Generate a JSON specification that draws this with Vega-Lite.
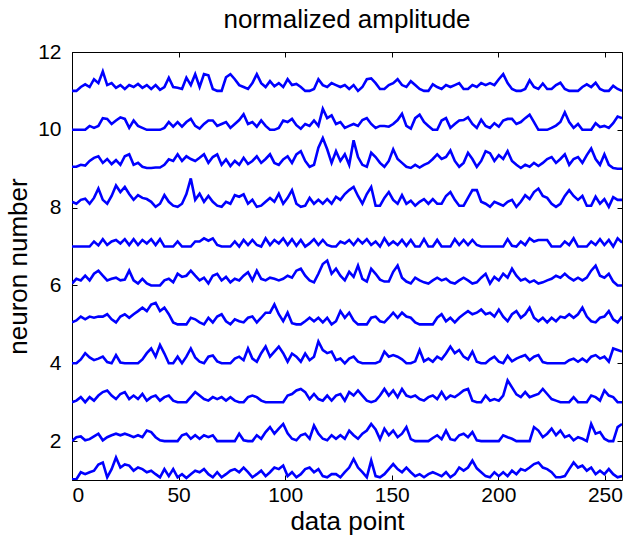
{
"$schema": "https://vega.github.io/schema/vega-lite/v6.json",
"width": 550,
"height": 428,
"autosize": "none",
"padding": {"left": 72, "top": 52, "right": 19, "bottom": 60},
"background": "white",
"title": {"text": "normalized amplitude", "font": "Liberation Sans", "fontSize": 26, "fontWeight": "normal", "color": "black", "offset": 8},
"config": {
  "view": {"stroke": "black", "strokeWidth": 1},
  "axis": {"domainColor": "black", "tickColor": "black", "labelColor": "black", "titleColor": "black", "labelFont": "Liberation Sans", "titleFont": "Liberation Sans", "labelFontSize": 21, "titleFontSize": 26, "titleFontWeight": "normal", "grid": false, "tickSize": -5}
},
"data": {"values": [
{"x":0,"n1":1.02,"n2":2,"n3":3,"n4":4,"n5":5.05,"n6":6.05,"n7":7,"n8":8.15,"n9":9.05,"n10":10,"n11":11},
{"x":2.06,"n1":1.02,"n2":2.1,"n3":3.04,"n4":4,"n5":5.1,"n6":6.17,"n7":7,"n8":8.1,"n9":9.05,"n10":10,"n11":11},
{"x":4.13,"n1":1.2,"n2":2.12,"n3":3.13,"n4":4.1,"n5":5.2,"n6":6.13,"n7":7,"n8":8.2,"n9":9.1,"n10":10,"n11":11.1},
{"x":6.19,"n1":1.15,"n2":2.02,"n3":3,"n4":4.26,"n5":5.13,"n6":6.25,"n7":7,"n8":8.23,"n9":9.08,"n10":10,"n11":11.17},
{"x":8.26,"n1":1.2,"n2":2.05,"n3":3.13,"n4":4.15,"n5":5.2,"n6":6.13,"n7":7,"n8":8.1,"n9":9.2,"n10":10.1,"n11":11.1},
{"x":10.32,"n1":1.24,"n2":2.12,"n3":3.04,"n4":4.08,"n5":5.17,"n6":6.3,"n7":7.13,"n8":8.25,"n9":9.28,"n10":10.05,"n11":11.3},
{"x":12.38,"n1":1.4,"n2":2.19,"n3":3.17,"n4":4.12,"n5":5.2,"n6":6.38,"n7":7.03,"n8":8.49,"n9":9.32,"n10":10.1,"n11":11.2},
{"x":14.45,"n1":1.45,"n2":2.02,"n3":3.26,"n4":4.17,"n5":5.2,"n6":6.25,"n7":7.19,"n8":8.2,"n9":9.15,"n10":10.3,"n11":11.5},
{"x":16.51,"n1":1.07,"n2":2.1,"n3":3.3,"n4":4.03,"n5":5.26,"n6":6.13,"n7":7.04,"n8":8.1,"n9":9.25,"n10":10.28,"n11":11.15},
{"x":18.58,"n1":1.28,"n2":2.15,"n3":3.17,"n4":4,"n5":5.13,"n6":6.17,"n7":7.13,"n8":8.3,"n9":9.12,"n10":10.15,"n11":11.2},
{"x":20.64,"n1":1.58,"n2":2.19,"n3":3.08,"n4":4.21,"n5":5.05,"n6":6.2,"n7":7.17,"n8":8.57,"n9":9.22,"n10":10.24,"n11":11.08},
{"x":22.7,"n1":1.32,"n2":2.15,"n3":3.21,"n4":4.02,"n5":5.2,"n6":6.13,"n7":7.08,"n8":8.4,"n9":9.1,"n10":10.32,"n11":11.15},
{"x":24.77,"n1":1.4,"n2":2.19,"n3":3.26,"n4":4,"n5":5.26,"n6":6.15,"n7":7.19,"n8":8.53,"n9":9.32,"n10":10.28,"n11":11.05},
{"x":26.83,"n1":1.37,"n2":2.15,"n3":3.08,"n4":4,"n5":5.17,"n6":6.38,"n7":7.04,"n8":8.35,"n9":9.37,"n10":10.05,"n11":11.15},
{"x":28.9,"n1":1.24,"n2":2.1,"n3":3.17,"n4":4,"n5":5.26,"n6":6.13,"n7":7.19,"n8":8.2,"n9":9.1,"n10":10.24,"n11":11.1},
{"x":30.96,"n1":1.32,"n2":2.15,"n3":3.08,"n4":4,"n5":5.34,"n6":6.05,"n7":7.04,"n8":8.32,"n9":9.15,"n10":10.1,"n11":11.18},
{"x":33.02,"n1":1.28,"n2":2.1,"n3":3.21,"n4":4.1,"n5":5.43,"n6":6.17,"n7":7.17,"n8":8.25,"n9":9.05,"n10":10.05,"n11":11.08},
{"x":35.09,"n1":1.2,"n2":2.27,"n3":3.04,"n4":4.26,"n5":5.34,"n6":6.05,"n7":7.08,"n8":8.22,"n9":9.02,"n10":10,"n11":11.15},
{"x":37.15,"n1":1.24,"n2":2.23,"n3":3.13,"n4":4.38,"n5":5.51,"n6":6,"n7":7.19,"n8":8.15,"n9":9.02,"n10":10,"n11":11.05},
{"x":39.22,"n1":1.15,"n2":2.1,"n3":3.17,"n4":4.17,"n5":5.55,"n6":6,"n7":7.04,"n8":8.02,"n9":9.03,"n10":10,"n11":11.15},
{"x":41.28,"n1":1.07,"n2":2.02,"n3":3.04,"n4":4.47,"n5":5.34,"n6":6,"n7":7.19,"n8":8.1,"n9":9.03,"n10":10,"n11":11.03},
{"x":43.34,"n1":1.28,"n2":2,"n3":3.13,"n4":4.25,"n5":5.43,"n6":6.13,"n7":7,"n8":8.32,"n9":9.1,"n10":10.05,"n11":11.1},
{"x":45.41,"n1":1.1,"n2":2,"n3":3.17,"n4":4,"n5":5.26,"n6":6.17,"n7":7,"n8":8.15,"n9":9.24,"n10":10.2,"n11":11.34},
{"x":47.47,"n1":1.28,"n2":2,"n3":3.04,"n4":4,"n5":5.05,"n6":6.08,"n7":7,"n8":8.05,"n9":9.2,"n10":10.08,"n11":11.1},
{"x":49.54,"n1":1.07,"n2":2,"n3":3,"n4":4.17,"n5":5,"n6":6.3,"n7":7.13,"n8":8.02,"n9":9.37,"n10":10.2,"n11":11.08},
{"x":51.6,"n1":1.15,"n2":2.15,"n3":3,"n4":4,"n5":5,"n6":6.22,"n7":7,"n8":8.1,"n9":9.2,"n10":10.08,"n11":11.05},
{"x":53.66,"n1":1.05,"n2":2.19,"n3":3,"n4":4.17,"n5":5,"n6":6.25,"n7":7,"n8":8.35,"n9":9.32,"n10":10.2,"n11":11.34},
{"x":55.73,"n1":1.15,"n2":2.06,"n3":3.13,"n4":4.38,"n5":5.17,"n6":6.38,"n7":7,"n8":8.75,"n9":9.25,"n10":10.28,"n11":11.15},
{"x":57.79,"n1":1.24,"n2":2.15,"n3":3.26,"n4":4.15,"n5":5.13,"n6":6.25,"n7":7.13,"n8":8.2,"n9":9.2,"n10":10.1,"n11":11.43},
{"x":59.86,"n1":1.2,"n2":2.06,"n3":3.17,"n4":4.04,"n5":5.05,"n6":6.13,"n7":7.13,"n8":8.36,"n9":9.28,"n10":10.03,"n11":11.1},
{"x":61.92,"n1":1.28,"n2":2.15,"n3":3.08,"n4":4,"n5":5,"n6":6.2,"n7":7.21,"n8":8.15,"n9":9.37,"n10":10.15,"n11":11.43},
{"x":63.98,"n1":1.15,"n2":2.1,"n3":3.04,"n4":4.17,"n5":5.17,"n6":6.05,"n7":7.15,"n8":8.3,"n9":9.15,"n10":10.24,"n11":11.4},
{"x":66.05,"n1":1.07,"n2":2.15,"n3":3.13,"n4":4.2,"n5":5.05,"n6":6.25,"n7":7.21,"n8":8.15,"n9":9.3,"n10":10.24,"n11":11.05},
{"x":68.11,"n1":1.2,"n2":2,"n3":3.08,"n4":4.05,"n5":5.2,"n6":6.3,"n7":7.04,"n8":8.05,"n9":9.37,"n10":10.1,"n11":11},
{"x":70.18,"n1":1.07,"n2":2,"n3":3.13,"n4":4,"n5":5.26,"n6":6.13,"n7":7,"n8":8.02,"n9":9.1,"n10":10.15,"n11":11},
{"x":72.24,"n1":1.15,"n2":2,"n3":3.04,"n4":4,"n5":5.08,"n6":6.22,"n7":7,"n8":8.15,"n9":9.24,"n10":10.2,"n11":11.35},
{"x":74.3,"n1":1.24,"n2":2,"n3":3.13,"n4":4,"n5":5,"n6":6.08,"n7":7,"n8":8.1,"n9":9.07,"n10":10.05,"n11":11.43},
{"x":76.37,"n1":1.28,"n2":2,"n3":3.04,"n4":4.12,"n5":5.13,"n6":6.17,"n7":7.13,"n8":8.32,"n9":9.2,"n10":10.15,"n11":11.3},
{"x":78.43,"n1":1.2,"n2":2.19,"n3":3,"n4":4.17,"n5":5.08,"n6":6.13,"n7":7,"n8":8.28,"n9":9.1,"n10":10.25,"n11":11.15},
{"x":80.5,"n1":1.32,"n2":2.02,"n3":3,"n4":4.08,"n5":5.05,"n6":6.25,"n7":7.17,"n8":8.34,"n9":9.28,"n10":10.4,"n11":11.1},
{"x":82.56,"n1":1.2,"n2":2,"n3":3.13,"n4":4.38,"n5":5.17,"n6":6.34,"n7":7.04,"n8":8.1,"n9":9.12,"n10":10.15,"n11":11.05},
{"x":84.62,"n1":1.07,"n2":2,"n3":3.17,"n4":4.12,"n5":5.2,"n6":6.13,"n7":7.17,"n8":8.2,"n9":9.2,"n10":10.2,"n11":11.2},
{"x":86.69,"n1":1.15,"n2":2.15,"n3":3.13,"n4":4.04,"n5":5.05,"n6":6.38,"n7":7.04,"n8":8.02,"n9":9.32,"n10":10.08,"n11":11.43},
{"x":88.75,"n1":1.24,"n2":2.06,"n3":3.04,"n4":4.26,"n5":5.17,"n6":6.17,"n7":7,"n8":8.05,"n9":9.15,"n10":10.24,"n11":11.2},
{"x":90.82,"n1":1.1,"n2":2.23,"n3":3,"n4":4.43,"n5":5.3,"n6":6.13,"n7":7.21,"n8":8.15,"n9":9.25,"n10":10.1,"n11":11.1},
{"x":92.88,"n1":1.2,"n2":2.36,"n3":3,"n4":4.17,"n5":5.3,"n6":6.2,"n7":7.04,"n8":8.25,"n9":9.37,"n10":10,"n11":11.25},
{"x":94.94,"n1":1.32,"n2":2.19,"n3":3,"n4":4.3,"n5":5.51,"n6":6.17,"n7":7.17,"n8":8.15,"n9":9.15,"n10":10,"n11":11.12},
{"x":97.01,"n1":1.28,"n2":2.32,"n3":3,"n4":4.43,"n5":5.26,"n6":6.13,"n7":7.08,"n8":8.36,"n9":9.1,"n10":10.05,"n11":11.2},
{"x":99.07,"n1":1.37,"n2":2.44,"n3":3,"n4":4.26,"n5":5.08,"n6":6.17,"n7":7.21,"n8":8.1,"n9":9.24,"n10":10.24,"n11":11.1},
{"x":101.14,"n1":1.1,"n2":2.2,"n3":3.17,"n4":4.04,"n5":5.3,"n6":6.25,"n7":7.04,"n8":8.25,"n9":9.32,"n10":10.2,"n11":11.3},
{"x":103.2,"n1":1.2,"n2":2.06,"n3":3.21,"n4":4.25,"n5":5.03,"n6":6.2,"n7":7.19,"n8":8.45,"n9":9.15,"n10":10.28,"n11":11.15},
{"x":105.26,"n1":1.07,"n2":2.02,"n3":3.3,"n4":4.17,"n5":5,"n6":6.38,"n7":7.02,"n8":8.1,"n9":9.37,"n10":10.12,"n11":11.18},
{"x":107.33,"n1":1.15,"n2":2.15,"n3":3.34,"n4":4.04,"n5":5,"n6":6.43,"n7":7.17,"n8":8.02,"n9":9.45,"n10":10.03,"n11":11.1},
{"x":109.39,"n1":1.28,"n2":2.19,"n3":3.26,"n4":4.25,"n5":5.08,"n6":6.25,"n7":7,"n8":8.05,"n9":9.2,"n10":10.15,"n11":11},
{"x":111.46,"n1":1.32,"n2":2.06,"n3":3.08,"n4":4.08,"n5":5.17,"n6":6.13,"n7":7.08,"n8":8.25,"n9":9.05,"n10":10.1,"n11":11},
{"x":113.52,"n1":1.2,"n2":2.4,"n3":3.21,"n4":4.17,"n5":5.08,"n6":6.08,"n7":7.19,"n8":8.1,"n9":9.1,"n10":10.24,"n11":11.05},
{"x":115.58,"n1":1.28,"n2":2.19,"n3":3.08,"n4":4.56,"n5":5.17,"n6":6.3,"n7":7.04,"n8":8.2,"n9":9.54,"n10":10.1,"n11":11.3},
{"x":117.65,"n1":1.1,"n2":2.06,"n3":3.04,"n4":4.34,"n5":5.05,"n6":6.55,"n7":7.17,"n8":8.1,"n9":9.79,"n10":10.54,"n11":11.15},
{"x":119.71,"n1":1.07,"n2":2.02,"n3":3.17,"n4":4.26,"n5":5.17,"n6":6.64,"n7":7.04,"n8":8.22,"n9":9.5,"n10":10.3,"n11":11.1},
{"x":121.78,"n1":1.15,"n2":2.15,"n3":3.04,"n4":4.3,"n5":5,"n6":6.3,"n7":7,"n8":8.1,"n9":9.15,"n10":10.37,"n11":11.2},
{"x":123.84,"n1":1.15,"n2":2.06,"n3":3.17,"n4":4.08,"n5":5.08,"n6":6.43,"n7":7,"n8":8.28,"n9":9.45,"n10":10.15,"n11":11.15},
{"x":125.9,"n1":1.07,"n2":2.15,"n3":3.21,"n4":4.12,"n5":5.34,"n6":6.25,"n7":7.13,"n8":8.2,"n9":9.2,"n10":10.2,"n11":11.1},
{"x":127.97,"n1":1.2,"n2":2.06,"n3":3.04,"n4":4,"n5":5.17,"n6":6.13,"n7":7.08,"n8":8.35,"n9":9.37,"n10":10.05,"n11":11.15},
{"x":130.03,"n1":1.32,"n2":2.27,"n3":3.26,"n4":4.12,"n5":5.3,"n6":6.35,"n7":7.17,"n8":8.45,"n9":9.1,"n10":10.1,"n11":11.05},
{"x":132.1,"n1":1.54,"n2":2.15,"n3":3.17,"n4":4.17,"n5":5.1,"n6":6.22,"n7":7.04,"n8":8.53,"n9":9.73,"n10":10.15,"n11":11.15},
{"x":134.16,"n1":1.32,"n2":2.06,"n3":3.3,"n4":4.04,"n5":5,"n6":6.51,"n7":7.19,"n8":8.3,"n9":9.3,"n10":10.1,"n11":11},
{"x":136.22,"n1":1.2,"n2":2.19,"n3":3.17,"n4":4,"n5":5,"n6":6.17,"n7":7.08,"n8":8.1,"n9":9.1,"n10":10.25,"n11":11.1},
{"x":138.29,"n1":1.07,"n2":2.27,"n3":3.04,"n4":4,"n5":5,"n6":6.1,"n7":7.19,"n8":8.35,"n9":9.05,"n10":10.3,"n11":11.3},
{"x":140.35,"n1":1.5,"n2":2.44,"n3":3,"n4":4,"n5":5.17,"n6":6.43,"n7":7.04,"n8":8.53,"n9":9.41,"n10":10.15,"n11":11.32},
{"x":142.42,"n1":1.1,"n2":2.3,"n3":3.04,"n4":4,"n5":5.2,"n6":6.3,"n7":7.13,"n8":8.05,"n9":9.3,"n10":10.05,"n11":11.2},
{"x":144.48,"n1":1.07,"n2":2.05,"n3":3.17,"n4":4.05,"n5":5.08,"n6":6.15,"n7":7,"n8":8.05,"n9":9.15,"n10":10.1,"n11":11.05},
{"x":146.54,"n1":1.15,"n2":2.32,"n3":3.34,"n4":4.3,"n5":5.05,"n6":6.1,"n7":7.21,"n8":8.25,"n9":9.05,"n10":10.1,"n11":11.05},
{"x":148.61,"n1":1.28,"n2":2.15,"n3":3.17,"n4":4.17,"n5":5.17,"n6":6.1,"n7":7.04,"n8":8.4,"n9":9.2,"n10":10.08,"n11":11.15},
{"x":150.67,"n1":1.41,"n2":2.27,"n3":3.3,"n4":4.21,"n5":5.3,"n6":6.35,"n7":7.13,"n8":8.2,"n9":9.5,"n10":10.15,"n11":11.2},
{"x":152.74,"n1":1.28,"n2":2.1,"n3":3.13,"n4":4.17,"n5":5.17,"n6":6.51,"n7":7.04,"n8":8.1,"n9":9.25,"n10":10.25,"n11":11.3},
{"x":154.8,"n1":1.2,"n2":2.19,"n3":3.34,"n4":4.1,"n5":5.3,"n6":6.2,"n7":7.17,"n8":8.32,"n9":9.15,"n10":10.41,"n11":11.15},
{"x":156.86,"n1":1.32,"n2":2.36,"n3":3.17,"n4":4,"n5":5.2,"n6":6.1,"n7":7.02,"n8":8.1,"n9":9.05,"n10":10.1,"n11":11.1},
{"x":158.93,"n1":1.2,"n2":2.05,"n3":3.13,"n4":4,"n5":5.17,"n6":6.05,"n7":7.17,"n8":8.18,"n9":9.02,"n10":10.03,"n11":11.25},
{"x":160.99,"n1":1.1,"n2":2,"n3":3.17,"n4":4.05,"n5":5.05,"n6":6.2,"n7":7,"n8":8.05,"n9":9.1,"n10":10.3,"n11":11.15},
{"x":163.06,"n1":1.15,"n2":2,"n3":3.08,"n4":4.34,"n5":5,"n6":6.13,"n7":7,"n8":8.15,"n9":9.03,"n10":10.39,"n11":11.05},
{"x":165.12,"n1":1.07,"n2":2,"n3":3.04,"n4":4.05,"n5":5,"n6":6.08,"n7":7.19,"n8":8.22,"n9":9.1,"n10":10.2,"n11":11},
{"x":167.18,"n1":1.15,"n2":2,"n3":3.13,"n4":4.12,"n5":5,"n6":6.05,"n7":7,"n8":8.1,"n9":9.15,"n10":10.1,"n11":11},
{"x":169.25,"n1":1.2,"n2":2.08,"n3":3.17,"n4":4.04,"n5":5,"n6":6.13,"n7":7,"n8":8.22,"n9":9.25,"n10":10,"n11":11.17},
{"x":171.31,"n1":1.15,"n2":2.15,"n3":3.08,"n4":4.17,"n5":5.17,"n6":6.2,"n7":7.17,"n8":8.1,"n9":9.37,"n10":10,"n11":11.1},
{"x":173.38,"n1":1.1,"n2":2.05,"n3":3.26,"n4":4.1,"n5":5.26,"n6":6.13,"n7":7,"n8":8.1,"n9":9.25,"n10":10.24,"n11":11.05},
{"x":175.44,"n1":1.2,"n2":2.27,"n3":3.08,"n4":4.25,"n5":5.08,"n6":6.17,"n7":7,"n8":8.3,"n9":9.3,"n10":10.3,"n11":11.15},
{"x":177.5,"n1":1.07,"n2":2.05,"n3":3.17,"n4":4.43,"n5":5.17,"n6":6.08,"n7":7,"n8":8.4,"n9":9.47,"n10":10.05,"n11":11.1},
{"x":179.57,"n1":1.15,"n2":2.02,"n3":3.13,"n4":4.26,"n5":5.05,"n6":6.05,"n7":7.19,"n8":8.2,"n9":9.2,"n10":10.15,"n11":11.15},
{"x":181.63,"n1":1.32,"n2":2.15,"n3":3.21,"n4":4.34,"n5":5.17,"n6":6.13,"n7":7.04,"n8":8.05,"n9":9.05,"n10":10.24,"n11":11.2},
{"x":183.7,"n1":1.24,"n2":2.19,"n3":3.3,"n4":4.17,"n5":5.26,"n6":6.2,"n7":7.17,"n8":8.05,"n9":9.15,"n10":10.25,"n11":11.05},
{"x":185.76,"n1":1.32,"n2":2.1,"n3":3.34,"n4":4.1,"n5":5.34,"n6":6.13,"n7":7.04,"n8":8.25,"n9":9.41,"n10":10.32,"n11":11.05},
{"x":187.82,"n1":1.5,"n2":2.23,"n3":3.04,"n4":4.3,"n5":5.26,"n6":6.05,"n7":7.17,"n8":8.45,"n9":9.25,"n10":10.15,"n11":11.15},
{"x":189.89,"n1":1.3,"n2":2.02,"n3":3,"n4":4.04,"n5":5.3,"n6":6.08,"n7":7.04,"n8":8.45,"n9":9.05,"n10":10.05,"n11":11.1},
{"x":191.95,"n1":1.2,"n2":2,"n3":3,"n4":4,"n5":5.38,"n6":6.2,"n7":7,"n8":8.15,"n9":9.2,"n10":10.26,"n11":11.2},
{"x":194.02,"n1":1.1,"n2":2,"n3":3.17,"n4":4,"n5":5.26,"n6":6.3,"n7":7,"n8":8.1,"n9":9.45,"n10":10.1,"n11":11.15},
{"x":196.08,"n1":1.07,"n2":2,"n3":3.04,"n4":4.1,"n5":5.3,"n6":6.05,"n7":7,"n8":8.02,"n9":9.4,"n10":10.05,"n11":11.2},
{"x":198.14,"n1":1.2,"n2":2,"n3":3.08,"n4":4.17,"n5":5.2,"n6":6.22,"n7":7,"n8":8.15,"n9":9.2,"n10":10.17,"n11":11.15},
{"x":200.21,"n1":1.1,"n2":2,"n3":3.04,"n4":4.04,"n5":5.38,"n6":6.13,"n7":7,"n8":8.1,"n9":9.35,"n10":10.08,"n11":11.3},
{"x":202.27,"n1":1.2,"n2":2.15,"n3":3.17,"n4":4,"n5":5.2,"n6":6.3,"n7":7,"n8":8.05,"n9":9.25,"n10":10.24,"n11":11.43},
{"x":204.34,"n1":1.1,"n2":2.1,"n3":3.56,"n4":4.19,"n5":5.08,"n6":6.2,"n7":7.19,"n8":8.15,"n9":9.45,"n10":10.28,"n11":11.2},
{"x":206.4,"n1":1.24,"n2":2.06,"n3":3.38,"n4":4.05,"n5":5.26,"n6":6.43,"n7":7.02,"n8":8.2,"n9":9.2,"n10":10.28,"n11":11.05},
{"x":208.46,"n1":1.15,"n2":2,"n3":3.2,"n4":4.12,"n5":5.34,"n6":6.25,"n7":7,"n8":8.02,"n9":9.1,"n10":10.15,"n11":11},
{"x":210.53,"n1":1.28,"n2":2,"n3":3.13,"n4":4.17,"n5":5.17,"n6":6.13,"n7":7.13,"n8":8.15,"n9":9.02,"n10":10.2,"n11":11},
{"x":212.59,"n1":1.24,"n2":2,"n3":3.26,"n4":4.21,"n5":5.26,"n6":6.17,"n7":7.04,"n8":8.32,"n9":9.1,"n10":10.3,"n11":11.05},
{"x":214.66,"n1":1.32,"n2":2,"n3":3.13,"n4":4.08,"n5":5.43,"n6":6.08,"n7":7.21,"n8":8.22,"n9":9.05,"n10":10.39,"n11":11.27},
{"x":216.72,"n1":1.41,"n2":2.36,"n3":3.17,"n4":4.17,"n5":5.17,"n6":6.13,"n7":7.13,"n8":8.4,"n9":9.15,"n10":10.2,"n11":11.1},
{"x":218.78,"n1":1.45,"n2":2.27,"n3":3.21,"n4":4.21,"n5":5.08,"n6":6.05,"n7":7.17,"n8":8.49,"n9":9.07,"n10":10,"n11":11.05},
{"x":220.85,"n1":1.32,"n2":2.1,"n3":3.34,"n4":4.03,"n5":5.17,"n6":6.08,"n7":7.17,"n8":8.3,"n9":9.15,"n10":10,"n11":11.19},
{"x":222.91,"n1":1.28,"n2":2.19,"n3":3.21,"n4":4,"n5":5.05,"n6":6.13,"n7":7.17,"n8":8.25,"n9":9.25,"n10":10,"n11":11.05},
{"x":224.98,"n1":1.2,"n2":2.32,"n3":3.08,"n4":4,"n5":5.17,"n6":6.17,"n7":7,"n8":8.1,"n9":9.3,"n10":10.05,"n11":11.05},
{"x":227.04,"n1":1.07,"n2":2.15,"n3":3.04,"n4":4,"n5":5.08,"n6":6.25,"n7":7,"n8":8.02,"n9":9.15,"n10":10.11,"n11":11.15},
{"x":229.1,"n1":1.07,"n2":2.27,"n3":3,"n4":4,"n5":5.2,"n6":6.2,"n7":7,"n8":8.1,"n9":9.25,"n10":10.2,"n11":11.21},
{"x":231.17,"n1":1.1,"n2":2.1,"n3":3,"n4":4,"n5":5.17,"n6":6.3,"n7":7.13,"n8":8.3,"n9":9.37,"n10":10.45,"n11":11.05},
{"x":233.23,"n1":1.28,"n2":2.15,"n3":3,"n4":4.08,"n5":5.26,"n6":6.2,"n7":7.04,"n8":8.45,"n9":9.1,"n10":10.2,"n11":11},
{"x":235.3,"n1":1.45,"n2":2.02,"n3":3.13,"n4":4.12,"n5":5.17,"n6":6.13,"n7":7.21,"n8":8.3,"n9":9.25,"n10":10.05,"n11":11},
{"x":237.36,"n1":1.32,"n2":2.1,"n3":3,"n4":4.04,"n5":5.26,"n6":6.2,"n7":7,"n8":8.2,"n9":9.3,"n10":10.15,"n11":11},
{"x":239.42,"n1":1.37,"n2":2.06,"n3":3,"n4":4.12,"n5":5.43,"n6":6.13,"n7":7,"n8":8.3,"n9":9.15,"n10":10,"n11":11.1},
{"x":241.49,"n1":1.24,"n2":2,"n3":3,"n4":4.04,"n5":5.2,"n6":6.2,"n7":7,"n8":8.05,"n9":9.35,"n10":10,"n11":11.17},
{"x":243.55,"n1":1.32,"n2":2.44,"n3":3.17,"n4":4.17,"n5":5.08,"n6":6.38,"n7":7.13,"n8":8.05,"n9":9.52,"n10":10,"n11":11.1},
{"x":245.62,"n1":1.15,"n2":2.19,"n3":3.13,"n4":4.21,"n5":5.05,"n6":6.51,"n7":7.04,"n8":8.28,"n9":9.25,"n10":10.17,"n11":11.21},
{"x":247.68,"n1":1.24,"n2":2.23,"n3":3.04,"n4":4.12,"n5":5.17,"n6":6.25,"n7":7.19,"n8":8.1,"n9":9.1,"n10":10.07,"n11":11.05},
{"x":249.74,"n1":1.15,"n2":2.06,"n3":3.3,"n4":4.17,"n5":5.2,"n6":6.2,"n7":7.04,"n8":8.22,"n9":9.37,"n10":10.1,"n11":11},
{"x":251.81,"n1":1.28,"n2":2,"n3":3.17,"n4":4.04,"n5":5.34,"n6":6.3,"n7":7.17,"n8":8.02,"n9":9.1,"n10":10.05,"n11":11},
{"x":253.87,"n1":1.15,"n2":2,"n3":3.13,"n4":4.38,"n5":5.13,"n6":6.1,"n7":7,"n8":8.27,"n9":9.02,"n10":10.17,"n11":11.13},
{"x":255.94,"n1":1.07,"n2":2.36,"n3":3,"n4":4.34,"n5":5.05,"n6":6,"n7":7.21,"n8":8.2,"n9":9,"n10":10.34,"n11":11.05},
{"x":258,"n1":1.1,"n2":2.44,"n3":3,"n4":4.3,"n5":5.2,"n6":6,"n7":7.1,"n8":8.2,"n9":9,"n10":10.3,"n11":11}
]},
"transform": [{"fold": ["n1","n2","n3","n4","n5","n6","n7","n8","n9","n10","n11"], "as": ["neuron","value"]}],
"layer": [
  {"mark": {"type": "line", "color": "#0000ff", "strokeWidth": 2.6, "clip": true},
   "encoding": {
     "x": {"field": "x", "type": "quantitative", "scale": {"domain": [0, 258], "nice": false}, "axis": {"title": "data point", "values": [0,50,100,150,200,250], "labelPadding": 9, "titlePadding": 3}},
     "y": {"field": "value", "type": "quantitative", "scale": {"domain": [1, 12], "nice": false, "zero": false}, "axis": {"title": "neuron number", "values": [2,4,6,8,10,12], "labelPadding": 16, "titlePadding": 6}},
     "detail": {"field": "neuron"}}},
  {"mark": {"type": "line", "opacity": 0},
   "encoding": {
     "x": {"field": "x", "type": "quantitative", "axis": {"orient": "top", "title": null, "labels": false, "domain": false, "values": [0,50,100,150,200,250]}},
     "y": {"field": "value", "type": "quantitative", "axis": {"orient": "right", "title": null, "labels": false, "domain": false, "values": [2,4,6,8,10,12]}},
     "detail": {"field": "neuron"}}}
],
"resolve": {"axis": {"x": "independent", "y": "independent"}}
}
